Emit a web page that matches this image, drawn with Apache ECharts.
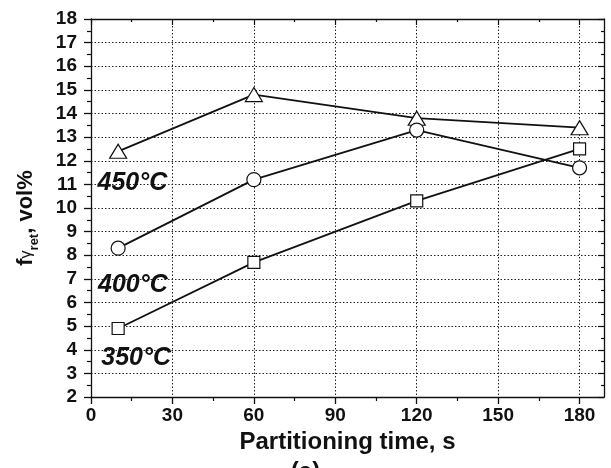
<!DOCTYPE html>
<html>
<head>
<meta charset="utf-8">
<script src="https://cdn.jsdelivr.net/npm/echarts@6/dist/echarts.min.js"></script>
<style>
html,body{margin:0;padding:0;background:#fff;}
#c{width:611px;height:468px;}
</style>
</head>
<body>
<div id="c"></div>
<script>
// ---- data ----
const times = [10, 60, 120, 180];
const s450 = [12.4, 14.8, 13.8, 13.4];
const s400 = [8.3, 11.2, 13.3, 11.7];
const s350 = [4.9, 7.7, 10.3, 12.5];
const xTicks = [0, 30, 60, 90, 120, 150, 180];
const xMinorTicks = [15, 45, 75, 105, 135, 165];
const annTexts = ['450°C', '400°C', '350°C'];
const annX = [2.4, 2.6, 3.8];
const annY = [11.05, 6.75, 3.65];

const FONT = 'Liberation Sans, Arial, sans-serif';
const INK = '#111';

function pairs(ys){ return times.map((t,i)=>[t, ys[i]]); }

const chart = echarts.init(document.getElementById('c'), null, {renderer:'canvas'});

const lineStyle = {color: INK, width: 1.8};
const itemStyle = {color: '#fff', borderColor: INK, borderWidth: 1.2, opacity:1};

const baseX = {type:'value', min:0, max:189, interval:30, gridIndex:0};
const baseY = {type:'value', min:2, max:18, interval:1, gridIndex:0};

chart.setOption({
  animation:false,
  backgroundColor:'#fff',
  grid:{left:91, top:19, right:7, bottom:71, containLabel:false},
  xAxis:[
    Object.assign({}, baseX, {
      position:'bottom',
      name:'Partitioning time, s',
      nameLocation:'middle',
      nameGap:33,
      nameTextStyle:{fontFamily:FONT, fontWeight:'bold', fontSize:24, color:INK},
      axisLine:{show:true, onZero:false, lineStyle:{color:INK, width:1.3}},
      axisTick:{show:true, inside:false, length:7, customValues:xTicks, lineStyle:{color:INK, width:1.3}},
      axisLabel:{show:true, customValues:xTicks, margin:9, fontFamily:FONT, fontWeight:'bold', fontSize:19, color:INK},
      splitLine:{show:true, lineStyle:{color:'#222', width:1, type:[1.5,2]}}
    }),
    Object.assign({}, baseX, {
      position:'top',
      axisLine:{show:true, onZero:false, lineStyle:{color:INK, width:1.3}},
      axisTick:{show:true, inside:true, length:6, customValues:xTicks, lineStyle:{color:INK, width:1.2}},
      axisLabel:{show:false},
      splitLine:{show:false}
    }),
    Object.assign({}, baseX, {
      position:'bottom',
      axisLine:{show:false, onZero:false},
      axisTick:{show:true, inside:false, length:4, customValues:xMinorTicks, lineStyle:{color:INK, width:1.2}},
      axisLabel:{show:false},
      splitLine:{show:false}
    }),
    Object.assign({}, baseX, {
      position:'top',
      axisLine:{show:false, onZero:false},
      axisTick:{show:true, inside:true, length:3, customValues:xMinorTicks, lineStyle:{color:INK, width:1.2}},
      axisLabel:{show:false},
      splitLine:{show:false}
    })
  ],
  yAxis:[
    Object.assign({}, baseY, {
      position:'left',
      name:'{f|f}{g|γ}{s|ret}{n|, vol%}',
      nameLocation:'middle',
      nameGap:54,
      nameRotate:90,
      nameTextStyle:{
        fontFamily:FONT, fontWeight:'bold', fontSize:22, color:INK,
        padding:[0,20,0,0],
        rich:{
          f:{fontFamily:FONT, fontWeight:'bold', fontSize:22, color:INK},
          g:{fontFamily:FONT, fontWeight:'normal', fontSize:16, color:INK, verticalAlign:'bottom', padding:[0,0,2,0]},
          s:{fontFamily:FONT, fontWeight:'bold', fontSize:13, color:INK, verticalAlign:'bottom', padding:[0,0,-4,0]},
          n:{fontFamily:FONT, fontWeight:'bold', fontSize:22, color:INK}
        }
      },
      axisLine:{show:true, onZero:false, lineStyle:{color:INK, width:1.3}},
      axisTick:{show:true, inside:false, length:7, lineStyle:{color:INK, width:1.3}},
      minorTick:{show:true, splitNumber:2, length:4, lineStyle:{color:INK, width:1.2}},
      axisLabel:{show:true, margin:14, fontFamily:FONT, fontWeight:'bold', fontSize:19, color:INK},
      splitLine:{show:true, lineStyle:{color:'#222', width:1, type:[1.5,2]}}
    }),
    Object.assign({}, baseY, {
      position:'right',
      axisLine:{show:true, onZero:false, lineStyle:{color:INK, width:1.3}},
      axisTick:{show:true, inside:true, length:6, lineStyle:{color:INK, width:1.2}},
      minorTick:{show:true, splitNumber:2, length:3, lineStyle:{color:INK, width:1.2}},
      axisLabel:{show:false},
      splitLine:{show:false}
    })
  ],
  graphic:[{
    type:'text', left:'center', top:460,
    style:{text:'(a)', font:'bold 24px ' + FONT, fill:INK}
  }],
  series:[
    {type:'line', name:'450', data:pairs(s450), xAxisIndex:0, yAxisIndex:0,
     symbol:'triangle', symbolSize:[17,14], lineStyle, itemStyle, z:3},
    {type:'line', name:'400', data:pairs(s400), xAxisIndex:0, yAxisIndex:0,
     symbol:'circle', symbolSize:14, lineStyle, itemStyle, z:3},
    {type:'line', name:'350', data:pairs(s350), xAxisIndex:0, yAxisIndex:0,
     symbol:'rect', symbolSize:12, lineStyle, itemStyle, z:3},
    {type:'scatter', xAxisIndex:0, yAxisIndex:0, symbolSize:0, silent:true, z:4,
     itemStyle:{opacity:1, color:INK},
     data: annTexts.map((t,i)=>({name:t, value:[annX[i], annY[i]]})),
     label:{show:true, position:'right', distance:0, formatter:p=>p.name, opacity:1,
            fontFamily:FONT, fontWeight:'bold', fontStyle:'italic', fontSize:25, color:INK}}
  ]
});
</script>
</body>
</html>
